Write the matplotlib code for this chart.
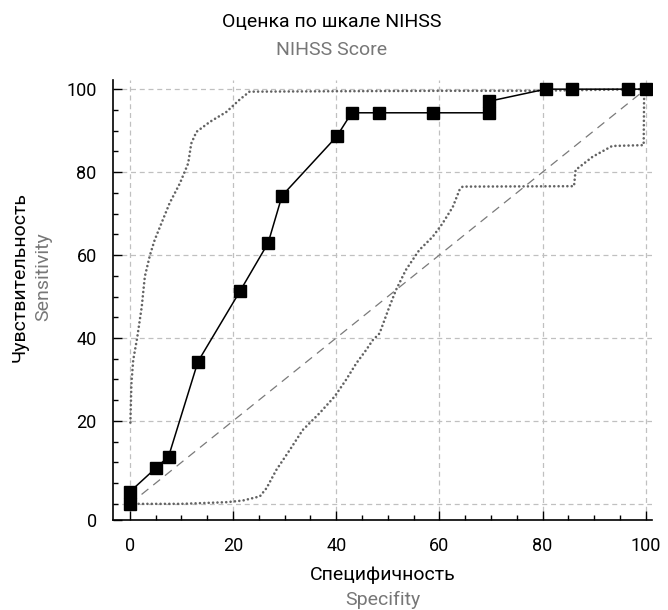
import numpy as np
import matplotlib.pyplot as plt
from matplotlib.ticker import MultipleLocator

plt.rcParams['font.family'] = ['Roboto', 'DejaVu Sans']

# ROC curve points (specificity axis, sensitivity)
roc_x = [0, 0, 5.0, 7.5, 13.2, 21.4, 26.8, 29.5, 40.1, 43.0, 48.3, 58.7, 69.7, 69.7, 80.6, 85.8, 96.6, 100]
roc_y = [0, 2.9, 8.6, 11.4, 34.3, 51.4, 62.9, 74.3, 88.6, 94.3, 94.3, 94.3, 94.3, 97.1, 100, 100, 100, 100]

# upper confidence bound
up_x = [0.1, 0.3, 0.65, 1.4, 2.3, 2.9, 3.9, 4.8, 6.1, 7.7, 9.7, 11.3, 11.9, 12.9, 15.5, 18.7, 21.3, 23.2, 40, 60, 78, 100]
up_y = [19.6, 29.0, 34.7, 39.9, 47.5, 54.8, 60.0, 63.6, 67.6, 72.5, 77.3, 82.1, 86.9, 89.7, 92.1, 94.5, 97.5, 99.4, 99.5, 99.6, 99.6, 100]

# lower confidence bound
lo_x = [0, 10, 18.7, 21.9, 25.2, 26.5, 28.4, 31.0, 33.5, 36.8, 39.7, 41.9, 43.9, 45.8, 47.1, 48.4, 50.3, 51.6,
        53.5, 56.1, 58.7, 60.6, 62.6, 63.9, 64.5, 86.1, 86.4, 89.7, 93.5, 99.6, 99.7]
lo_y = [0, 0, 0.4, 0.8, 1.8, 3.8, 8.2, 13.0, 17.8, 21.9, 25.9, 29.9, 33.9, 37.1, 39.5, 41.1, 47.5, 51.6,
        56.4, 61.2, 64.4, 67.6, 71.6, 75.7, 76.5, 76.6, 80.5, 83.7, 86.3, 86.5, 100]

fig = plt.figure(figsize=(6.68, 6.10), dpi=100)
ax = fig.add_axes([0.1697, 0.1475, 0.807, 0.7213])

ax.set_xlim(-3.2, 101.3)
ax.set_ylim(-3.9, 102.2)

grey = '#c0c0c0'
for v in range(0, 101, 20):
    ax.axvline(v, color=grey, lw=0.9, ls=(0, (4, 3)), zorder=0)
    ax.axhline(v, color=grey, lw=0.9, ls=(0, (4, 3)), zorder=0)

ax.plot([0, 100], [0, 100], color='#7a7a7a', lw=0.9, ls=(0, (7, 5)), zorder=1)

dot = (0, (0.01, 1.65))
ax.plot(up_x, up_y, color='#636363', lw=1.9, ls=dot, dash_capstyle='round', zorder=2)
ax.plot(lo_x, lo_y, color='#636363', lw=1.9, ls=dot, dash_capstyle='round', zorder=2)

ax.plot(roc_x, roc_y, color='black', lw=1.1, marker='s', ms=9, zorder=3)

for s in ['top', 'right']:
    ax.spines[s].set_visible(False)
for s in ['left', 'bottom']:
    ax.spines[s].set_linewidth(1.2)

ax.set_xticks(range(0, 101, 20))
ax.set_yticks([-3.9, 20, 40, 60, 80, 100], ['0', '20', '40', '60', '80', '100'])
ax.xaxis.set_minor_locator(MultipleLocator(5))
ax.yaxis.set_minor_locator(MultipleLocator(5))
ax.tick_params(which='major', direction='in', length=6.5, width=1.0, labelsize=13, pad=12)
ax.tick_params(which='minor', direction='in', length=3.5, width=1.0)

fig.text(0.497, 0.964, 'Оценка по шкале NIHSS', ha='center', va='center', fontsize=14, color='black')
fig.text(0.497, 0.918, 'NIHSS Score', ha='center', va='center', fontsize=14, color='#777777')

fig.text(0.573, 0.057, 'Специфичность', ha='center', va='center', fontsize=14, color='black')
fig.text(0.573, 0.016, 'Specifity', ha='center', va='center', fontsize=14, color='#777777')

fig.text(0.029, 0.546, 'Чувствительность', ha='center', va='center', rotation=90, fontsize=14, color='black')
fig.text(0.064, 0.546, 'Sensitivity', ha='center', va='center', rotation=90, fontsize=14, color='#777777')

fig.savefig('out.png', dpi=100)
